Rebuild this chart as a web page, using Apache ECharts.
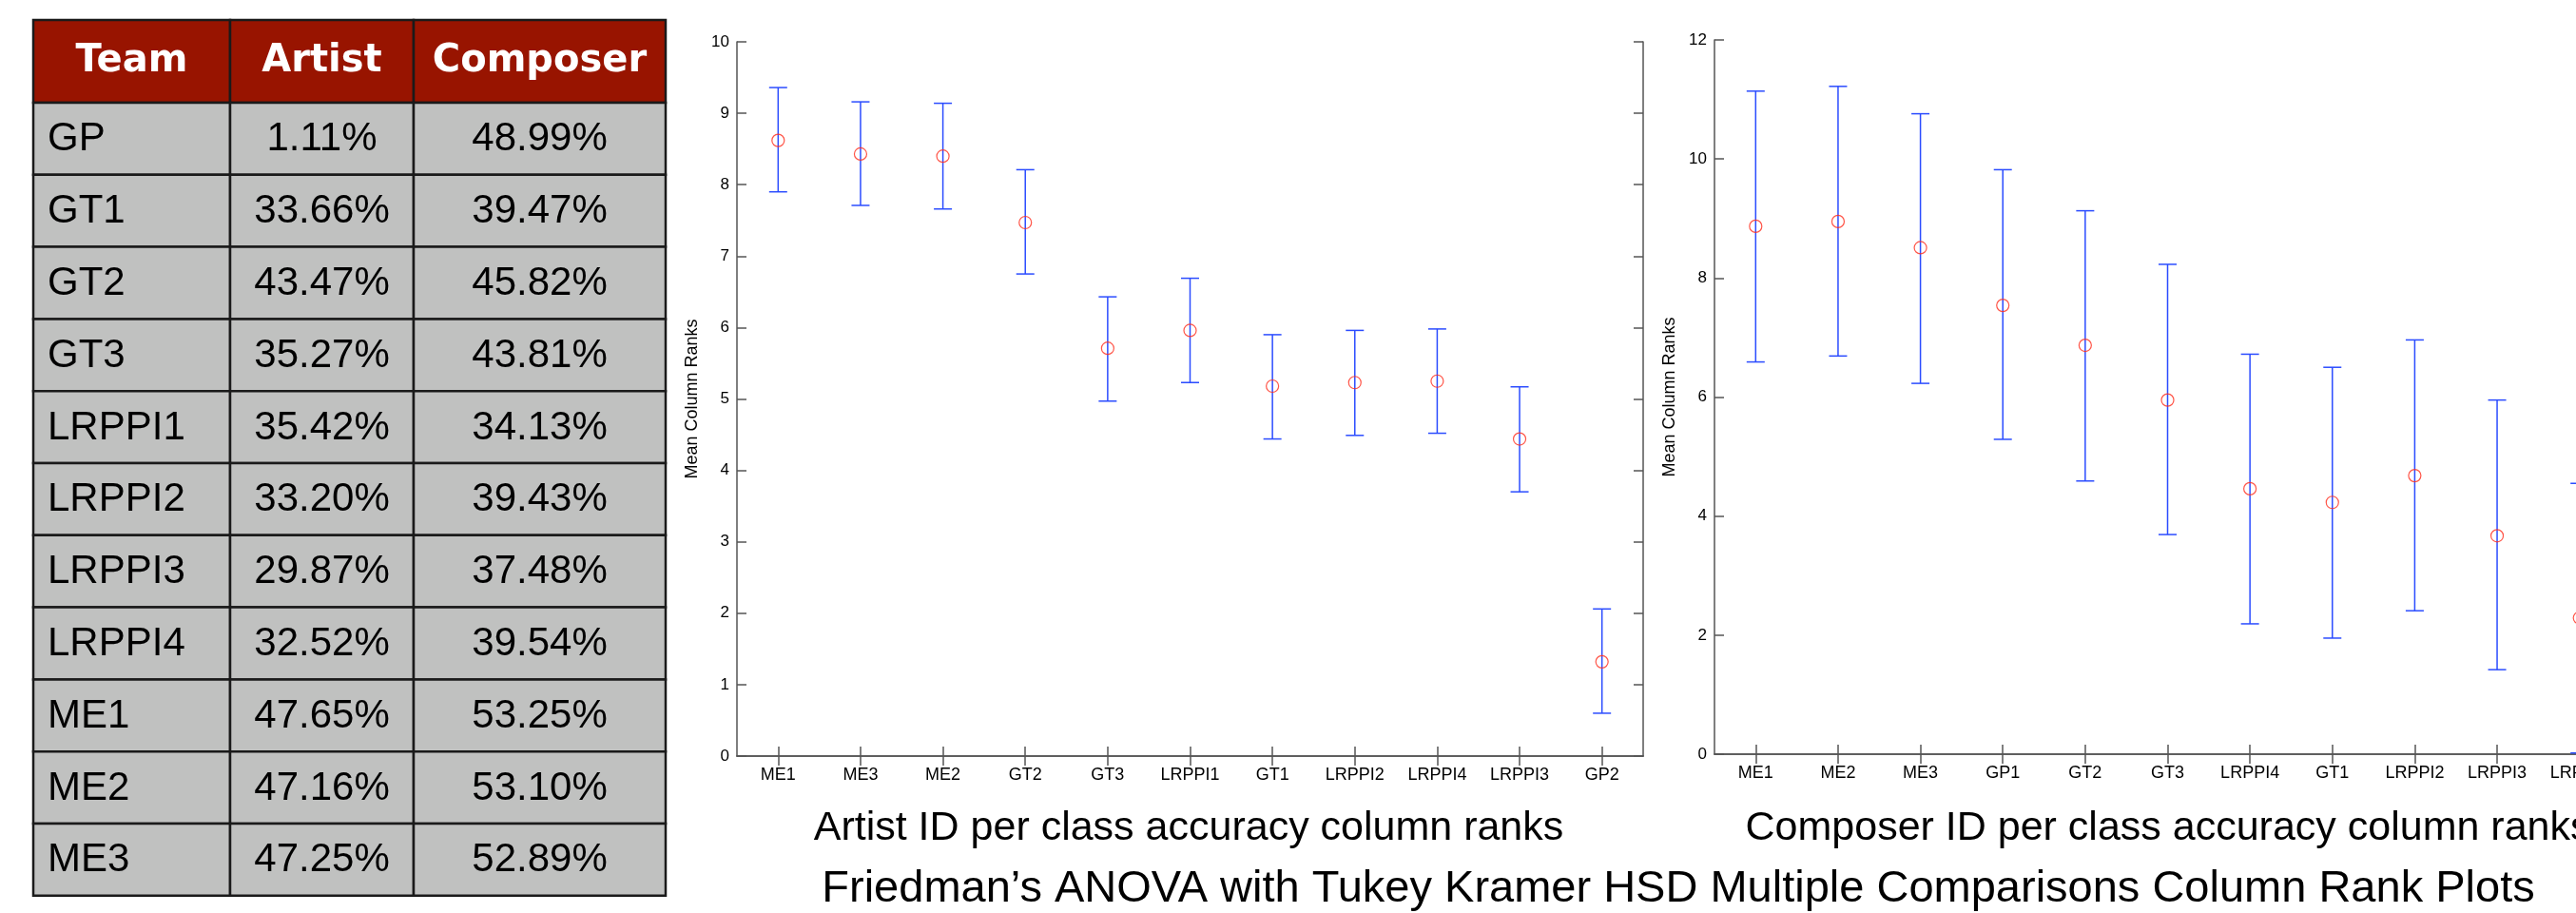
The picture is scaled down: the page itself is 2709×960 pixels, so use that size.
<!DOCTYPE html>
<html>
<head>
<meta charset="utf-8">
<script src="https://cdn.jsdelivr.net/npm/echarts@6/dist/echarts.min.js"></script>
<style>
  html, body { margin: 0; padding: 0; background: #fff; overflow: hidden; }
  /* wider than the window: the composer plot runs past the right edge */
  #chart { width: 2800px; height: 960px; }
</style>
</head>
<body>
<div id="chart"></div>
<script>
// table data
var tableHead = ['Team', 'Artist', 'Composer'];
var teams = ['GP', 'GT1', 'GT2', 'GT3', 'LRPPI1', 'LRPPI2', 'LRPPI3', 'LRPPI4', 'ME1', 'ME2', 'ME3'];
var artistAcc = [1.11, 33.66, 43.47, 35.27, 35.42, 33.20, 29.87, 32.52, 47.65, 47.16, 47.25];
var composerAcc = [48.99, 39.47, 45.82, 43.81, 34.13, 39.43, 37.48, 39.54, 53.25, 53.10, 52.89];

// artist ID column ranks (mean + comparison interval)
var artistTeams = ['ME1', 'ME3', 'ME2', 'GT2', 'GT3', 'LRPPI1', 'GT1', 'LRPPI2', 'LRPPI4', 'LRPPI3', 'GP2'];
var artistMean = [8.62, 8.43, 8.40, 7.47, 5.71, 5.96, 5.18, 5.23, 5.25, 4.44, 1.32];
var artistLow  = [7.90, 7.71, 7.66, 6.75, 4.97, 5.23, 4.44, 4.49, 4.52, 3.70, 0.60];
var artistHigh = [9.36, 9.16, 9.14, 8.21, 6.43, 6.69, 5.90, 5.96, 5.98, 5.17, 2.06];

// composer ID column ranks
var composerTeams = ['ME1', 'ME2', 'ME3', 'GP1', 'GT2', 'GT3', 'LRPPI4', 'GT1', 'LRPPI2', 'LRPPI3', 'LRPPI1'];
var composerMean = [8.87, 8.95, 8.51, 7.54, 6.87, 5.95, 4.46, 4.23, 4.68, 3.67, 2.29];
var composerLow  = [6.59, 6.69, 6.23, 5.29, 4.59, 3.69, 2.19, 1.95, 2.41, 1.42, 0.02];
var composerHigh = [11.14, 11.22, 10.76, 9.82, 9.13, 8.23, 6.72, 6.50, 6.96, 5.95, 4.55];

var subTitles = ['Artist ID per class accuracy column ranks', 'Composer ID per class accuracy column ranks'];
var mainTitle = 'Friedman\u2019s ANOVA with Tukey Kramer HSD Multiple Comparisons Column Rank Plots';

var FONT = '"Liberation Sans", Arial, sans-serif';
var AXIS_COLOR = '#555';
var BAR_COLOR = '#2b4cff';
var MARK_COLOR = '#ff2a1a';

//表格 built with graphic elements
function buildTable() {
  var colX = [35, 242, 435, 700];
  var headTop = 21, headH = 87, rowH = 75.8;
  var els = [];
  tableHead.forEach(function (h, c) {
    els.push({
      type: 'rect',
      shape: { x: colX[c], y: headTop, width: colX[c + 1] - colX[c], height: headH },
      style: { fill: '#981400', stroke: '#1a1a1a', lineWidth: 2.5 }
    });
    els.push({
      type: 'text',
      x: (colX[c] + colX[c + 1]) / 2, y: headTop + headH / 2,
      style: { text: h, fill: '#fff', font: 'bold 40px "DejaVu Sans", sans-serif', align: 'center', verticalAlign: 'middle' }
    });
  });
  teams.forEach(function (t, r) {
    var y = headTop + headH + r * rowH;
    var cells = [t, artistAcc[r].toFixed(2) + '%', composerAcc[r].toFixed(2) + '%'];
    cells.forEach(function (txt, c) {
      els.push({
        type: 'rect',
        shape: { x: colX[c], y: y, width: colX[c + 1] - colX[c], height: rowH },
        style: { fill: '#c0c1c0', stroke: '#1a1a1a', lineWidth: 2.5 }
      });
      els.push({
        type: 'text',
        x: c === 0 ? colX[0] + 15 : (colX[c] + colX[c + 1]) / 2,
        y: y + rowH / 2 + 1,
        style: { text: txt, fill: '#000', font: '42px ' + FONT, align: c === 0 ? 'left' : 'center', verticalAlign: 'middle' }
      });
    });
  });
  return els;
}

function errorBarItem(params, api) {
  var x = api.value(0);
  var lo = api.coord([x, api.value(1)]);
  var hi = api.coord([x, api.value(2)]);
  var cap = 9.5;
  var st = { stroke: BAR_COLOR, lineWidth: 1.5 };
  return {
    type: 'group',
    children: [
      { type: 'line', shape: { x1: hi[0], y1: hi[1], x2: lo[0], y2: lo[1] }, style: st },
      { type: 'line', shape: { x1: hi[0] - cap, y1: hi[1], x2: hi[0] + cap, y2: hi[1] }, style: st },
      { type: 'line', shape: { x1: lo[0] - cap, y1: lo[1], x2: lo[0] + cap, y2: lo[1] }, style: st }
    ]
  };
}

function catAxis(data, gridIndex, pos) {
  return {
    type: 'category', gridIndex: gridIndex, position: pos, data: data,
    boundaryGap: true,
    axisLine: { show: true, lineStyle: { color: AXIS_COLOR, width: 1.5 } },
    axisTick: { show: true, inside: true, alignWithLabel: true, length: 10, lineStyle: { color: AXIS_COLOR, width: 1.5 } },
    axisLabel: { show: pos === 'bottom', interval: 0, margin: 11, color: '#000', fontSize: 18, fontFamily: FONT },
    splitLine: { show: false }
  };
}

function valAxis(max, interval, gridIndex, pos) {
  return {
    type: 'value', gridIndex: gridIndex, position: pos,
    min: 0, max: max, interval: interval,
    name: pos === 'left' ? 'Mean Column Ranks' : '',
    nameLocation: 'middle', nameGap: 38,
    nameTextStyle: { color: '#000', fontSize: 18, fontFamily: FONT },
    axisLine: { show: true, lineStyle: { color: AXIS_COLOR, width: 1.5 } },
    axisTick: { show: true, inside: true, length: 10, lineStyle: { color: AXIS_COLOR, width: 1.5 } },
    axisLabel: { show: pos === 'left', margin: 8, color: '#000', fontSize: 17, fontFamily: FONT },
    splitLine: { show: false }
  };
}

function toBars(low, high) {
  return low.map(function (v, i) { return [i, v, high[i]]; });
}

var texts = [
  { x: 1250, y: 871, size: 43, text: subTitles[0] },
  { x: 2280, y: 871, size: 43, text: subTitles[1] },
  { x: 1765, y: 935, size: 47, text: mainTitle }
].map(function (t) {
  return {
    type: 'text', x: t.x, y: t.y,
    style: { text: t.text, fill: '#000', font: t.size + 'px ' + FONT, align: 'center', verticalAlign: 'middle' }
  };
});

var option = {
  animation: false,
  backgroundColor: '#fff',
  grid: [
    { left: 775, top: 44, width: 953, height: 751 },
    { left: 1803, top: 42, width: 953, height: 751 }
  ],
  xAxis: [
    catAxis(artistTeams, 0, 'bottom'),
    catAxis(artistTeams, 0, 'top'),
    catAxis(composerTeams, 1, 'bottom'),
    catAxis(composerTeams, 1, 'top')
  ],
  yAxis: [
    valAxis(10, 1, 0, 'left'),
    valAxis(10, 1, 0, 'right'),
    valAxis(12, 2, 1, 'left'),
    valAxis(12, 2, 1, 'right')
  ],
  series: [
    {
      type: 'custom', xAxisIndex: 0, yAxisIndex: 0, silent: true,
      renderItem: errorBarItem, data: toBars(artistLow, artistHigh)
    },
    {
      type: 'scatter', xAxisIndex: 0, yAxisIndex: 0, silent: true, z: 5,
      symbol: 'circle', symbolSize: 13,
      itemStyle: { color: 'rgba(0,0,0,0)', borderColor: MARK_COLOR, borderWidth: 1.2 },
      data: artistMean
    },
    {
      type: 'custom', xAxisIndex: 2, yAxisIndex: 2, silent: true,
      renderItem: errorBarItem, data: toBars(composerLow, composerHigh)
    },
    {
      type: 'scatter', xAxisIndex: 2, yAxisIndex: 2, silent: true, z: 5,
      symbol: 'circle', symbolSize: 13,
      itemStyle: { color: 'rgba(0,0,0,0)', borderColor: MARK_COLOR, borderWidth: 1.2 },
      data: composerMean
    }
  ],
  graphic: buildTable().concat(texts)
};

var chart = echarts.init(document.getElementById('chart'));
chart.setOption(option);
</script>
</body>
</html>
